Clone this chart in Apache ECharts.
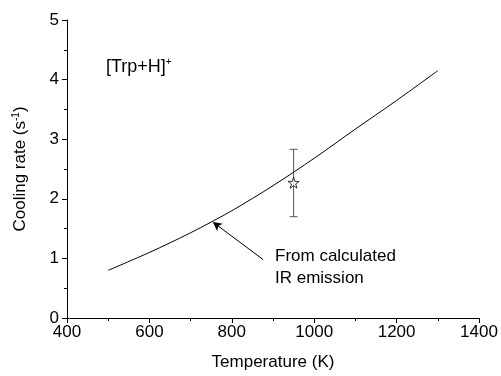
<!DOCTYPE html>
<html>
<head>
<meta charset="utf-8">
<script src="https://cdn.jsdelivr.net/npm/echarts@6/dist/echarts.min.js"></script>
<style>
  html, body { margin: 0; padding: 0; background: #fff; }
  #cooling { width: 501px; height: 376px; }
</style>
</head>
<body>
<div id="cooling"></div>
<script>
// calculated IR emission curve
var temps = [500, 600, 700, 800, 900, 1000, 1100, 1200, 1300];
var rates = [0.80, 1.10, 1.43, 1.80, 2.22, 2.68, 3.17, 3.65, 4.15];
// measured point with error bar
var measT = [950];
var measRate = [2.27];
var measLow = [1.70];
var measHigh = [2.83];
// annotation arrow (data coords): from -> to
var arrowFrom = [876, 0.98];
var arrowTo = [754, 1.61];

var font = "'Liberation Sans', Arial, sans-serif";
var starPath = "path://M50,0 L61.8,35.3 L99,35.3 L69,57.1 L80.4,92.7 L50,70.9 L19.6,92.7 L31,57.1 L1,35.3 L38.2,35.3 Z";

var chartDom = document.getElementById("cooling");
var myChart = echarts.init(chartDom);
var option;

option = {
  animation: false,
  backgroundColor: "#fff",
  textStyle: { fontFamily: font },
  grid: { left: 67, right: 22, top: 20, bottom: 55, containLabel: false },
  xAxis: {
    type: "value",
    min: 400,
    max: 1400,
    interval: 200,
    name: "Temperature (K)",
    nameLocation: "middle",
    nameGap: 36,
    nameTextStyle: { fontSize: 17, color: "#000", fontFamily: font },
    axisLine: { show: true, lineStyle: { color: "#000", width: 1 } },
    axisTick: { show: true, inside: false, length: 5, lineStyle: { color: "#000" } },
    minorTick: { show: true, splitNumber: 2, length: 3, lineStyle: { color: "#000" } },
    axisLabel: {
      fontSize: 17, color: "#000", margin: 6, fontFamily: font,
      formatter: function (v) { return String(v); },
    },
    splitLine: { show: false },
  },
  yAxis: {
    type: "value",
    min: 0,
    max: 5,
    interval: 1,
    name: "{a|Cooling rate (s}{s|-1}{a|)}",
    nameLocation: "middle",
    nameGap: 38,
    nameTextStyle: {
      color: "#000",
      rich: {
        a: { fontSize: 17, fontFamily: font, color: "#000" },
        s: { fontSize: 10, fontFamily: font, color: "#000", verticalAlign: "top", padding: [0, 0, 8, 0] },
      },
    },
    axisLine: { show: true, lineStyle: { color: "#000", width: 1 } },
    axisTick: { show: true, inside: false, length: 5, lineStyle: { color: "#000" } },
    minorTick: { show: true, splitNumber: 2, length: 3, lineStyle: { color: "#000" } },
    axisLabel: {
      fontSize: 17, color: "#000", margin: 8, fontFamily: font,
      formatter: function (v) { return String(v); },
    },
    splitLine: { show: false },
  },
  graphic: [
    {
      type: "text",
      left: 106,
      top: 57,
      style: {
        text: "{a|[Trp+H]}{s|+}",
        rich: {
          a: { fontSize: 18, fontFamily: font, fill: "#000" },
          s: { fontSize: 10, fontFamily: font, fill: "#000", verticalAlign: "top", padding: [0, 0, 10, 0] },
        },
      },
    },
    {
      type: "text",
      left: 275,
      top: 245,
      style: {
        text: "From calculated\nIR emission",
        fontSize: 17,
        lineHeight: 22,
        fontFamily: font,
        fill: "#000",
      },
    },
  ],
  series: [
    {
      name: "calc",
      type: "line",
      smooth: 0.3,
      symbol: "none",
      lineStyle: { color: "#000", width: 1 },
      data: temps.map(function (t, i) { return [t, rates[i]]; }),
      markLine: {
        silent: true,
        symbol: ["none", "arrow"],
        symbolSize: [7, 9],
        label: { show: false },
        lineStyle: { color: "#000", width: 1, type: "solid" },
        data: [[{ coord: arrowFrom }, { coord: arrowTo }]],
      },
    },
    {
      name: "errorbar",
      type: "custom",
      renderItem: function (params, api) {
        var x = api.value(0);
        var lo = api.coord([x, api.value(1)]);
        var hi = api.coord([x, api.value(2)]);
        var w = 4;
        var st = { stroke: "#555", lineWidth: 1 };
        return {
          type: "group",
          children: [
            { type: "line", shape: { x1: lo[0], y1: lo[1], x2: hi[0], y2: hi[1] }, style: st },
            { type: "line", shape: { x1: lo[0] - w, y1: lo[1], x2: lo[0] + w, y2: lo[1] }, style: st },
            { type: "line", shape: { x1: hi[0] - w, y1: hi[1], x2: hi[0] + w, y2: hi[1] }, style: st },
          ],
        };
      },
      data: measT.map(function (t, i) { return [t, measLow[i], measHigh[i]]; }),
      z: 3,
    },
    {
      name: "measured",
      type: "scatter",
      symbol: starPath,
      symbolSize: 11,
      itemStyle: { color: "#fff", borderColor: "#000", borderWidth: 1 },
      data: measT.map(function (t, i) { return [t, measRate[i]]; }),
      z: 4,
    },
  ],
};

option && myChart.setOption(option);
</script>
</body>
</html>
